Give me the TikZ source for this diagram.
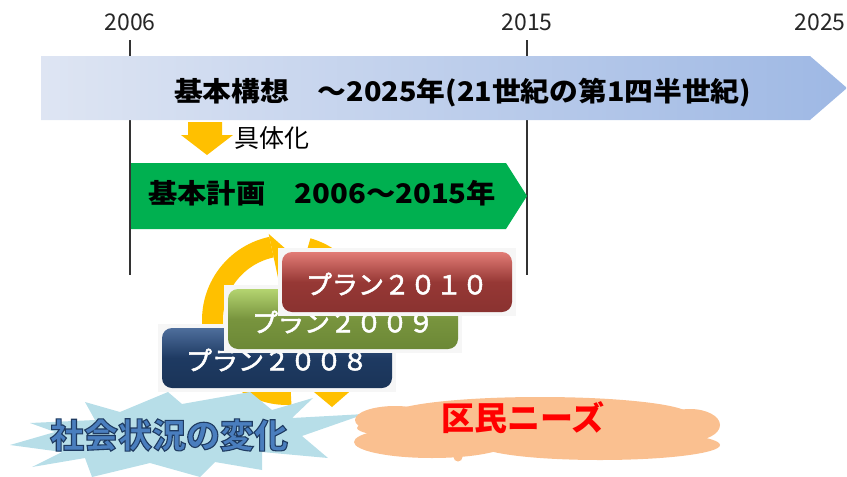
\documentclass[tikz,border=0pt]{standalone}
\usepackage{fontspec}
\setmainfont{Noto Sans CJK JP}
\usetikzlibrary{arrows.meta}
\definecolor{bandL}{RGB}{222,229,243}
\definecolor{bandR}{RGB}{158,184,228}
\definecolor{plangreen}{RGB}{0,176,80}
\definecolor{arrowyellow}{RGB}{255,192,0}
\definecolor{burst}{RGB}{183,222,232}
\definecolor{bursttext}{RGB}{74,126,190}
\definecolor{cloudfill}{RGB}{250,192,144}
\definecolor{halo}{RGB}{246,246,246}
\definecolor{redT}{RGB}{226,124,118}
\definecolor{redM}{RGB}{150,56,53}
\definecolor{redB}{RGB}{138,50,48}
\definecolor{grnT}{RGB}{180,212,112}
\definecolor{grnM}{RGB}{120,148,62}
\definecolor{grnB}{RGB}{108,136,54}
\definecolor{navT}{RGB}{78,110,156}
\definecolor{navM}{RGB}{30,58,98}
\definecolor{navB}{RGB}{26,52,88}
\newcommand{\outlinedtext}[1]{\special{pdf:code 2 Tr 1.1 w 0.12 0.23 0.38 RG}#1\special{pdf:code 0 Tr}}
\newcommand{\whitebold}[1]{\special{pdf:code 2 Tr 0.5 w 1 1 1 RG}#1\special{pdf:code 0 Tr}}
\begin{document}
\begin{tikzpicture}[x=1pt,y=-1pt,
  yearlabel/.style={font=\fontsize{23}{26}\selectfont, text=black!85, inner sep=0pt},
  bandtext/.style={font=\fontsize{27}{30}\selectfont\bfseries, inner sep=0pt, anchor=west},
  plantext/.style={font=\fontsize{26}{28}\selectfont, text=white, inner sep=0pt},
  planbox/.style={rounded corners=10pt, minimum width=230pt, minimum height=60pt, inner sep=0pt},
  halobox/.style={fill=halo, minimum width=238pt, minimum height=68pt, inner sep=0pt},
  timeline/.style={line width=1.1pt, black!80},
]
\useasboundingbox (0,0) rectangle (847,477);

% year labels and guide lines
\node[yearlabel] (y2006) at (130,22) {2006};
\node[yearlabel] (y2015) at (527,22) {2015};
\node[yearlabel] (y2025) at (820,22) {2025};
\coordinate (l1top) at (130,40);
\coordinate (l1bot) at (130,275);
\coordinate (l2top) at (527,40);
\coordinate (l2bot) at (527,275);
\draw[timeline] (l1top) -- (l1bot);
\draw[timeline] (l2top) -- (l2bot);

% top band
\shade[left color=bandL, right color=bandR]
  (41,56) -- (810,56) -- (847,88) -- (810,120) -- (41,120) -- cycle;
\node[bandtext] (vision) at (174,93) {\scalebox{1.065}[1]{基本構想　～2025年(21世紀の第1四半世紀)}};

% down arrow
\fill[arrowyellow] (188,122) -- (222,122) -- (222,135) -- (233,135) -- (207,155) -- (181,135) -- (188,135) -- cycle;
\node[font=\fontsize{25}{28}\selectfont, inner sep=0pt, anchor=west] (gutai) at (234,138) {具体化};

% green band
\fill[plangreen] (131,163) -- (506,163) -- (527,196) -- (506,229) -- (131,229) -- cycle;
\node[bandtext] (plan) at (148,193) {\scalebox{1.085}[1]{基本計画　2006～2015年}};

% cycle arrows
\fill[arrowyellow] plot[domain=87:258, samples=60] ({287+85*cos(\x)},{320+85*sin(\x)})
  -- plot[domain=258:87, samples=60] ({287+64*cos(\x)},{320+64*sin(\x)}) -- cycle;
\fill[arrowyellow] ({287+88*cos(258)},{320+88*sin(258)}) -- (296,258) -- ({287+40*cos(258)},{320+40*sin(258)}) -- cycle;
\fill[arrowyellow] plot[domain=286:400, samples=60] ({287+85*cos(\x)},{320+85*sin(\x)})
  -- plot[domain=400:286, samples=60] ({287+64*cos(\x)},{320+64*sin(\x)}) -- cycle;
\fill[arrowyellow] (290,372) -- (372,372) -- (332,407) -- cycle;

% plan boxes
\node[halobox] (h2008) at (277,358) {};
\node[planbox, top color=navT, bottom color=navB, middle color=navM] (b2008) at (277,358) {};
\node[plantext] (t2008) at (277,360) {\whitebold{プラン２００８}};
\node[halobox] (h2009) at (343,319) {};
\node[planbox, top color=grnT, bottom color=grnB, middle color=grnM] (b2009) at (343,319) {};
\node[plantext] (t2009) at (343,322) {\whitebold{プラン２００９}};
\node[halobox] (h2010) at (397,282) {};
\node[planbox, top color=redT, bottom color=redB, middle color=redM] (b2010) at (397,282) {};
\node[plantext] (t2010) at (397,284) {\whitebold{プラン２０１０}};

% burst
\fill[burst] (85,402) -- (120,412) -- (168,392) -- (182,404) -- (250,392) -- (272,410) -- (313,398) -- (292,418) -- (365,414) -- (302,436) -- (328,458) -- (262,452) -- (262,470) -- (215,462) -- (200,477) -- (150,463) -- (92,477) -- (85,458) -- (32,467) -- (62,452) -- (10,445) -- (55,432) -- (30,423) -- (95,420) -- cycle;
\node[font=\fontsize{34}{36}\selectfont\bfseries, text=bursttext, inner sep=0pt] (social) at (169,435) {\outlinedtext{社会状況の変化}};

% cloud
\fill[cloudfill] (537,428) ellipse[x radius=180, y radius=16];
\fill[cloudfill] (540,415) ellipse[x radius=150, y radius=18];
\fill[cloudfill] (432,442) ellipse[x radius=78, y radius=16];
\fill[cloudfill] (600,445) ellipse[x radius=120, y radius=15];
\fill[cloudfill] (395,420) ellipse[x radius=40, y radius=14];
\fill[cloudfill] (690,425) ellipse[x radius=30, y radius=16];
\fill[cloudfill] (458,457) circle[radius=4.5];
\node[font=\fontsize{33}{36}\selectfont\bfseries, text=red, inner sep=0pt] (needs) at (523,418) {区民ニーズ};
\end{tikzpicture}
\end{document}
